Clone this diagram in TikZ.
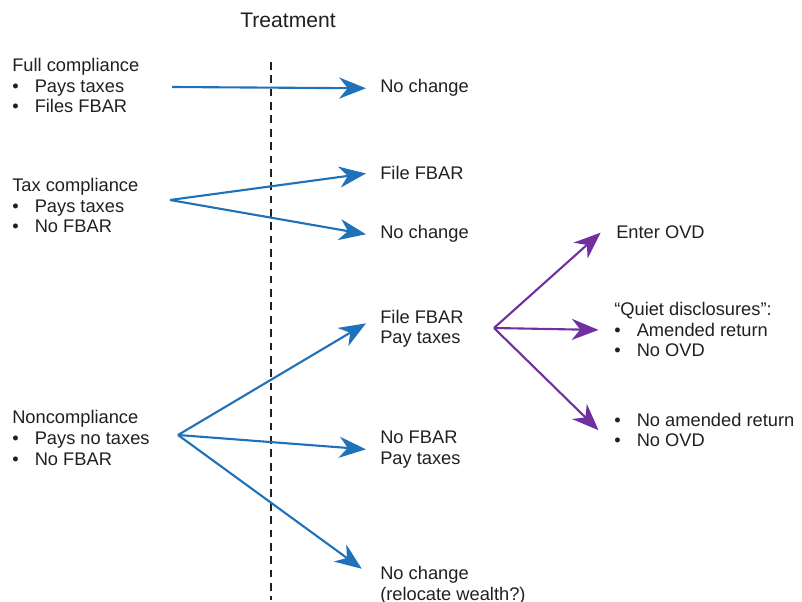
\documentclass[tikz,border=0pt]{standalone}
\usepackage{fontspec}
\setmainfont{Liberation Sans}
\usepackage{tikz}
\usetikzlibrary{positioning,arrows.meta,calc}

\definecolor{txtgray}{RGB}{35,31,32}
\definecolor{arrowblue}{RGB}{31,114,186}
\definecolor{arrowpurple}{RGB}{112,48,160}

\newcommand{\bitem}[1]{\makebox[16pt][l]{\textbullet}#1}

\begin{document}
\begin{tikzpicture}[x=0.025cm, y=-0.025cm,
    every node/.style={text=txtgray, font=\fontsize{13}{14.6}\selectfont, inner sep=0pt, align=left},
    blue arrow/.style={-{Stealth[length=19pt, width=15pt, inset=6pt]}, line width=1.5pt, draw=arrowblue},
    purple arrow/.style={-{Stealth[length=19pt, width=15pt, inset=6pt]}, line width=1.5pt, draw=arrowpurple}]
    \useasboundingbox (0,0) rectangle (802,602);

    % Treatment line
    \node[font=\fontsize{15}{16}\selectfont] (treat) at (288,20) {Treatment};
    \draw[txtgray, line width=1.5pt, dash pattern=on 5.5pt off 4pt] (271,62) -- (271,600);

    % Groups before treatment (base = last line)
    \node[anchor=base west] (full) at (12,113) {Full compliance\\ \bitem{Pays taxes}\\ \bitem{Files FBAR}};
    \node[anchor=base west] (tax) at (12,233) {Tax compliance\\ \bitem{Pays taxes}\\ \bitem{No FBAR}};
    \node[anchor=base west] (non) at (12,465) {Noncompliance\\ \bitem{Pays no taxes}\\ \bitem{No FBAR}};

    \coordinate (fullsrc) at (172,87);
    \coordinate (taxsrc) at (170,200);
    \coordinate (nonsrc) at (178,435);

    % Responses
    \node[anchor=base west] (nochg1) at (380,93) {No change};
    \node[anchor=base west] (fbar1) at (380,180) {File FBAR};
    \node[anchor=base west] (nochg2) at (380,239) {No change};
    \node[anchor=base west] (fbarpay) at (380,344) {File FBAR\\Pay taxes};
    \node[anchor=base west] (nofbar) at (380,464) {No FBAR\\Pay taxes};
    \node[anchor=base west] (nochg3) at (380,600) {No change\\(relocate wealth?)};

    \draw[blue arrow] (fullsrc) -- ([xshift=-10pt]nochg1.west);
    \draw[blue arrow] (taxsrc) -- ([xshift=-10pt]fbar1.west);
    \draw[blue arrow] (taxsrc) -- ([xshift=-10pt]nochg2.west);
    \draw[blue arrow] (nonsrc) -- ([xshift=-10pt, yshift=4pt]fbarpay.west);
    \draw[blue arrow] (nonsrc) -- ([xshift=-10pt]nofbar.west);
    \draw[blue arrow] (nonsrc) -- ([xshift=-13pt, yshift=-2pt]nochg3.north west);

    % Disclosure choices
    \coordinate (paysrc) at (494,328);
    \node[anchor=base west] (ovd) at (616,239) {Enter OVD};
    \node[anchor=base west] (quiet) at (614,357) {``Quiet disclosures'':\\ \bitem{Amended return}\\ \bitem{No OVD}};
    \node[anchor=base west] (noamend) at (614,447) {\bitem{No amended return}\\ \bitem{No OVD}};

    \draw[purple arrow] (paysrc) -- ([xshift=-11pt]ovd.west);
    \draw[purple arrow] (paysrc) -- ([xshift=-11pt]quiet.west);
    \draw[purple arrow] (paysrc) -- ([xshift=-11pt]noamend.west);
\end{tikzpicture}
\end{document}
